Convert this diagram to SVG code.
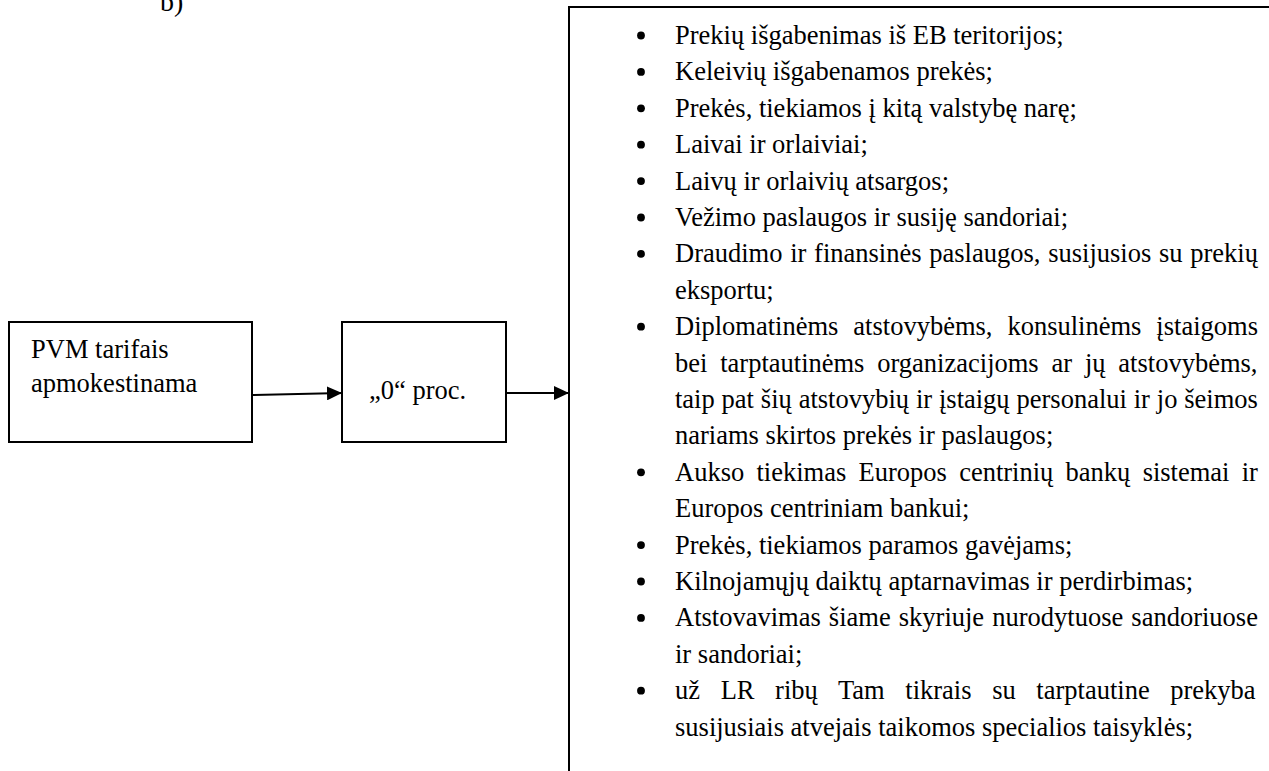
<svg xmlns="http://www.w3.org/2000/svg" width="1269" height="771" viewBox="0 0 1269 771">
  <defs>
    <style>
      .box { fill: #fff; stroke: #000; stroke-width: 2; }
      .txt { font-family: "Liberation Serif", "Times New Roman", serif; fill: #000; }
      .lbl { font-size: 26.5px; }
      .item { font-size: 26.5px; }
      .edge { fill: none; stroke: #000; stroke-width: 2; }
      .dot { fill: #000; }
    </style>
    <marker id="arrow" viewBox="0 0 15 14" refX="15" refY="7" markerWidth="15" markerHeight="14" markerUnits="userSpaceOnUse" orient="auto">
      <path d="M0,0 L15,7 L0,14 Z" fill="#000"/>
    </marker>
    <circle id="bullet" class="dot" r="3.9" cx="0" cy="0"/>
  </defs>

  <rect width="1269" height="771" fill="#fff"/>

  <!-- heading letter -->
  <text class="txt" x="160" y="11" font-size="28">b)</text>

  <!-- first node -->
  <g id="node-pvm">
    <rect class="box" x="9" y="322" width="243" height="120"/>
    <text class="txt lbl" x="31" y="358">PVM tarifais</text>
    <text class="txt lbl" x="31" y="392">apmokestinama</text>
  </g>

  <!-- zero-rate node -->
  <g id="node-zero">
    <rect class="box" x="342" y="322" width="164" height="120"/>
    <text class="txt lbl" x="369" y="399">„0“ proc.</text>
  </g>

  <!-- list of zero-rated supplies -->
  <g id="node-list">
    <rect class="box" x="569" y="7" width="800" height="900"/>
    <g class="bullets">
      <use href="#bullet" x="641" y="35.5"/>
      <use href="#bullet" x="641" y="71.9"/>
      <use href="#bullet" x="641" y="108.3"/>
      <use href="#bullet" x="641" y="144.7"/>
      <use href="#bullet" x="641" y="181.1"/>
      <use href="#bullet" x="641" y="217.5"/>
      <use href="#bullet" x="641" y="253.9"/>
      <use href="#bullet" x="641" y="326.7"/>
      <use href="#bullet" x="641" y="472.3"/>
      <use href="#bullet" x="641" y="545.1"/>
      <use href="#bullet" x="641" y="581.5"/>
      <use href="#bullet" x="641" y="617.9"/>
      <use href="#bullet" x="641" y="690.7"/>
    </g>
    <g class="txt item">
      <text x="675" y="44">Prekių išgabenimas iš EB teritorijos;</text>
      <text x="675" y="80.4">Keleivių išgabenamos prekės;</text>
      <text x="675" y="116.8">Prekės, tiekiamos į kitą valstybę narę;</text>
      <text x="675" y="153.2">Laivai ir orlaiviai;</text>
      <text x="675" y="189.6">Laivų ir orlaivių atsargos;</text>
      <text x="675" y="226">Vežimo paslaugos ir susiję sandoriai;</text>
      <text x="675" y="262.4" word-spacing="1.11">Draudimo ir finansinės paslaugos, susijusios su prekių</text>
      <text x="675" y="298.8">eksportu;</text>
      <text x="675" y="335.2" word-spacing="8.33">Diplomatinėms atstovybėms, konsulinėms įstaigoms</text>
      <text x="675" y="371.6" word-spacing="6.2">bei tarptautinėms organizacijoms ar jų atstovybėms,</text>
      <text x="675" y="408" word-spacing="0.24">taip pat šių atstovybių ir įstaigų personalui ir jo šeimos</text>
      <text x="675" y="444.4">nariams skirtos prekės ir paslaugos;</text>
      <text x="675" y="480.8" word-spacing="5.65">Aukso tiekimas Europos centrinių bankų sistemai ir</text>
      <text x="675" y="517.2">Europos centriniam bankui;</text>
      <text x="675" y="553.6">Prekės, tiekiamos paramos gavėjams;</text>
      <text x="675" y="590">Kilnojamųjų daiktų aptarnavimas ir perdirbimas;</text>
      <text x="675" y="626.4" word-spacing="1.48">Atstovavimas šiame skyriuje nurodytuose sandoriuose</text>
      <text x="675" y="662.8">ir sandoriai;</text>
      <text x="675" y="699.2" word-spacing="14">už LR ribų Tam tikrais su tarptautine prekyba</text>
      <text x="675" y="735.6">susijusiais atvejais taikomos specialios taisyklės;</text>
    </g>
  </g>

  <!-- connectors -->
  <g id="connectors">
    <line class="edge" x1="252" y1="395" x2="342" y2="393" marker-end="url(#arrow)"/>
    <line class="edge" x1="506" y1="393" x2="569" y2="393" marker-end="url(#arrow)"/>
  </g>
</svg>
